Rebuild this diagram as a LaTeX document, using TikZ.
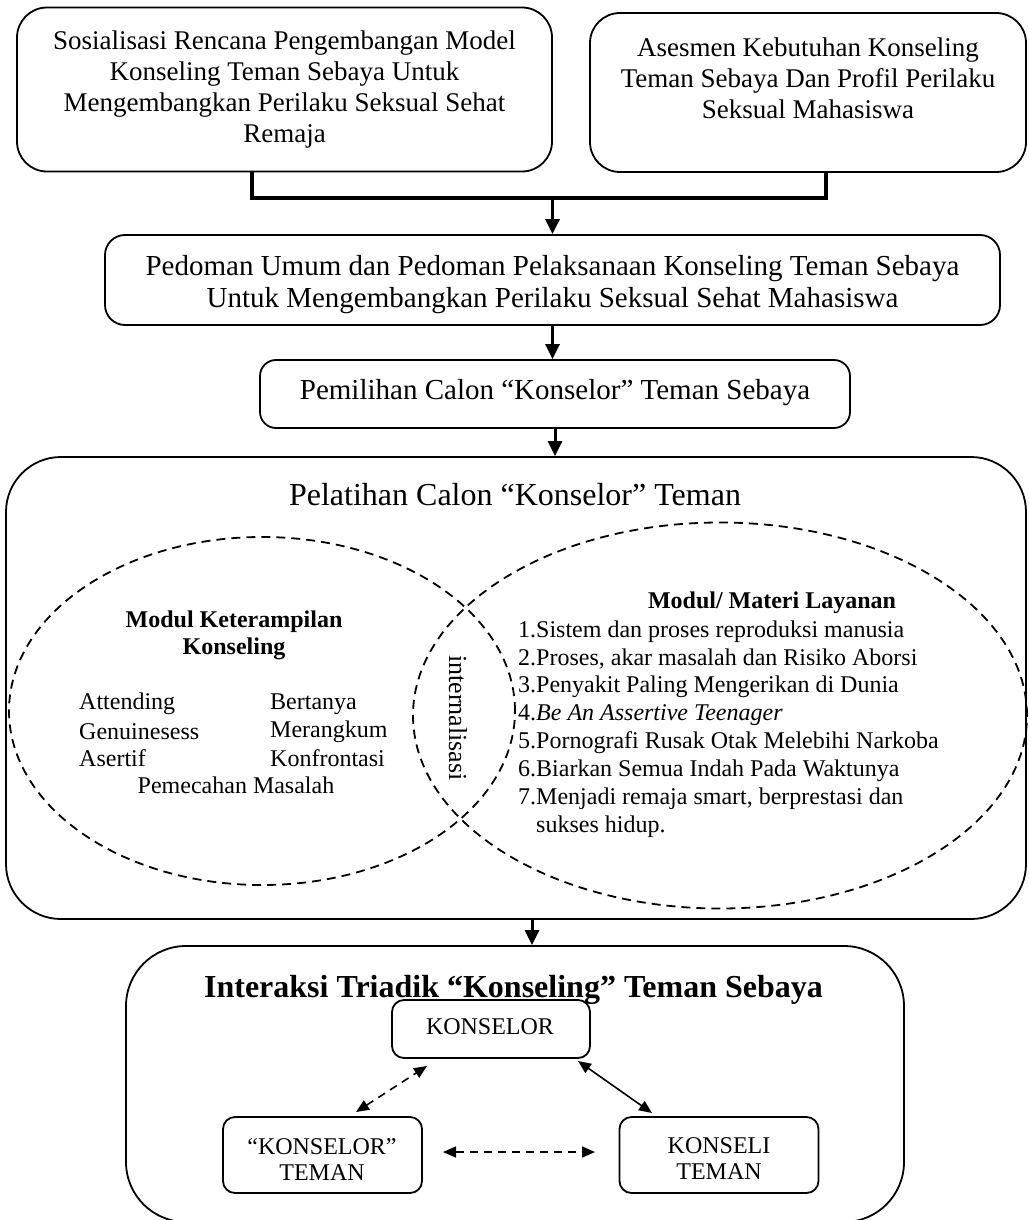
\documentclass[tikz,border=0pt]{standalone}
\usepackage{fontspec}
\setmainfont{Liberation Serif}
\usetikzlibrary{arrows.meta,shapes.geometric}
\begin{document}
\begin{tikzpicture}[x=1pt,y=-1pt,
  box/.style={draw, line width=1.8pt, inner sep=0pt},
  txt/.style={inner sep=0pt, align=center},
  arr/.style={line width=3pt, -{Triangle[length=15pt,width=14pt]}},
  thick4/.style={line width=4pt},
  venn/.style={draw, ellipse, line width=1.8pt, dash pattern=on 9pt off 6pt, inner sep=0pt},
  tri/.style={line width=1.6pt, {Triangle[length=13pt,width=11pt]}-{Triangle[length=13pt,width=11pt]}},
  tridash/.style={tri, dash pattern=on 8pt off 6pt}
]
\useasboundingbox (0,0) rectangle (1028,1220);

% top boxes
\node[box, rounded corners=30pt, minimum width=535pt, minimum height=164pt] (b1) at (284.5,89.5) {};
\node[txt, font=\fontsize{27}{31}\selectfont] (t1) at (284.5,90)
  {Sosialisasi Rencana Pengembangan Model\\Konseling Teman Sebaya Untuk\\Mengembangkan Perilaku Seksual Sehat\\Remaja};
\node[box, rounded corners=30pt, minimum width=436pt, minimum height=159pt] (b2) at (808,92.5) {};
\node[txt, font=\fontsize{27}{31}\selectfont] (t2) at (808,78)
  {Asesmen Kebutuhan Konseling\\Teman Sebaya Dan Profil Perilaku\\Seksual Mahasiswa};

\coordinate (j1) at (252,198);
\coordinate (j2) at (826,198);
\coordinate (j3) at (552.5,198);
\draw[thick4] (b1.south -| j1) -- (j1) -- (j2) -- (b2.south -| j2);

% box 3
\node[box, rounded corners=20pt, minimum width=895pt, minimum height=90pt] (b3) at (552.5,280) {};
\node[txt, font=\fontsize{29}{32}\selectfont] (t3) at (552.5,285)
  {Pedoman Umum dan Pedoman Pelaksanaan Konseling Teman Sebaya\\Untuk Mengembangkan Perilaku Seksual Sehat Mahasiswa};
\draw[arr] (j3) -- (b3.north);

% box 4
\node[box, rounded corners=16pt, minimum width=590pt, minimum height=68pt] (b4) at (555,394) {};
\node[txt, font=\fontsize{29}{32}\selectfont] (t4) at (555,393) {Pemilihan Calon “Konselor” Teman Sebaya};
\draw[arr] (b3.south) -- (b3.south |- b4.north);

% box 5
\node[box, rounded corners=55pt, minimum width=1020pt, minimum height=462pt] (b5) at (516,688) {};
\draw[arr] (b4.south) -- (b4.south |- b5.north);
\node[txt, font=\fontsize{32}{36}\selectfont] (t5) at (515,495) {Pelatihan Calon “Konselor” Teman};

\node[venn, minimum width=506pt, minimum height=348pt] (e1) at (262,711) {};
\node[venn, minimum width=614pt, minimum height=386pt] (e2) at (720,715.5) {};

\node[txt, font=\fontsize{24}{27}\selectfont\bfseries] (m1) at (234,635) {Modul Keterampilan\\Konseling};
\begin{scope}[every node/.style={inner sep=0pt, anchor=west, font=\fontsize{24}{27}\selectfont}]
\node (s1) at (79,704) {Attending};
\node (s2) at (79,732) {Genuinesess};
\node (s3) at (79,758) {Asertif};
\node (s4) at (270,704) {Bertanya};
\node (s5) at (270,732) {Merangkum};
\node (s6) at (270,758) {Konfrontasi};
\end{scope}
\node[txt, font=\fontsize{24}{27}\selectfont] (s7) at (236,785) {Pemecahan Masalah};

\node[txt, font=\fontsize{26}{28}\selectfont, rotate=-90] (in) at (458,718) {internalisasi};

\node[txt, font=\fontsize{24}{27}\selectfont\bfseries] (m2) at (772,603) {Modul/ Materi Layanan};
\node[inner sep=0pt, anchor=west, align=left, font=\fontsize{24}{27.9}\selectfont] (list) at (518,729)
  {1.Sistem dan proses reproduksi manusia\\
   2.Proses, akar masalah dan Risiko Aborsi\\
   3.Penyakit Paling Mengerikan di Dunia\\
   4.\textit{Be An Assertive Teenager}\\
   5.Pornografi Rusak Otak Melebihi Narkoba\\
   6.Biarkan Semua Indah Pada Waktunya\\
   7.Menjadi remaja smart, berprestasi dan\\
   \phantom{7.}sukses hidup.};

% box 6
\node[box, rounded corners=60pt, minimum width=778pt, minimum height=276pt] (b6) at (515,1084) {};
\coordinate (c56) at (532,0);
\draw[arr] (b5.south -| c56) -- (b6.north -| c56);
\node[txt, font=\fontsize{32}{36}\selectfont\bfseries] (t6) at (513.5,990) {Interaksi Triadik “Konseling” Teman Sebaya};

\node[box, rounded corners=12pt, minimum width=198pt, minimum height=58pt] (k1) at (491,1029) {};
\node[txt, font=\fontsize{24}{27}\selectfont] (k1t) at (490,1027) {KONSELOR};
\node[box, rounded corners=12pt, minimum width=199pt, minimum height=76pt] (k2) at (322.5,1155) {};
\node[txt, font=\fontsize{24}{26}\selectfont] (k2t) at (322,1159) {“KONSELOR”\\TEMAN};
\node[box, rounded corners=12pt, minimum width=199pt, minimum height=76pt] (k3) at (719,1155) {};
\node[txt, font=\fontsize{24}{26}\selectfont] (k3t) at (719,1159) {KONSELI\\TEMAN};

\coordinate (d1) at (356,1112);
\coordinate (d2) at (427,1066);
\coordinate (d3) at (578,1061);
\coordinate (d4) at (652,1113);
\coordinate (d5) at (443,1152);
\coordinate (d6) at (595,1152);
\draw[tridash] (d1) -- (d2);
\draw[tri] (d3) -- (d4);
\draw[tridash] (d5) -- (d6);
\end{tikzpicture}
\end{document}
